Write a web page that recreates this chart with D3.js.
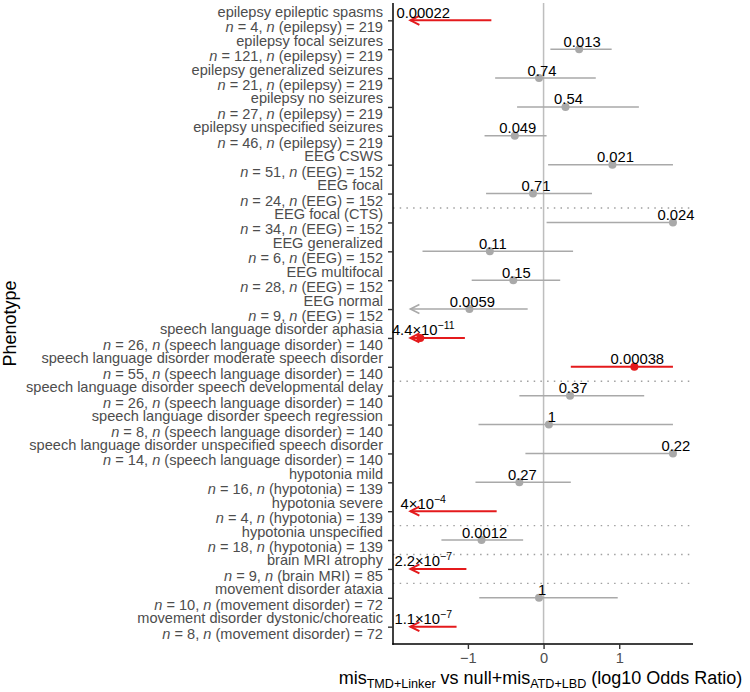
<!DOCTYPE html>
<html>
<head>
<meta charset="utf-8">
<script src="https://cdn.jsdelivr.net/npm/d3@7"></script>
<style>
  html, body { margin: 0; padding: 0; background: #fff; }
  svg { display: block; font-family: "Liberation Sans", Arial, Helvetica, sans-serif; }
</style>
</head>
<body>
<svg id="chart" width="750" height="692"></svg>
<script>
// ---------------- data ----------------
const phenotypes = [
  "epilepsy epileptic spasms",
  "epilepsy focal seizures",
  "epilepsy generalized seizures",
  "epilepsy no seizures",
  "epilepsy unspecified seizures",
  "EEG CSWS",
  "EEG focal",
  "EEG focal (CTS)",
  "EEG generalized",
  "EEG multifocal",
  "EEG normal",
  "speech language disorder aphasia",
  "speech language disorder moderate speech disorder",
  "speech language disorder speech developmental delay",
  "speech language disorder speech regression",
  "speech language disorder unspecified speech disorder",
  "hypotonia mild",
  "hypotonia severe",
  "hypotonia unspecified",
  "brain MRI atrophy",
  "movement disorder ataxia",
  "movement disorder dystonic/choreatic"
];
const nCases = [4, 121, 21, 27, 46, 51, 24, 34, 6, 28, 9, 26, 55, 26, 8, 14, 16, 4, 18, 9, 10, 8];
const groupNames = ["epilepsy","epilepsy","epilepsy","epilepsy","epilepsy",
  "EEG","EEG","EEG","EEG","EEG","EEG",
  "speech language disorder","speech language disorder","speech language disorder","speech language disorder","speech language disorder",
  "hypotonia","hypotonia","hypotonia","brain MRI","movement disorder","movement disorder"];
const groupTotals = [219,219,219,219,219,152,152,152,152,152,152,140,140,140,140,140,139,139,139,85,72,72];

// log10 odds ratio estimate (null = below the plotted range), lower / upper CI
const estimates = [null, 0.47, -0.06, 0.29, -0.38, 0.91, -0.14, 1.71, -0.71, -0.40, -0.98, -1.63, 1.20, 0.35, 0.07, 1.71, -0.32, null, -0.82, null, -0.06, null];
const lowerCI   = [-2.6, 0.09, -0.64, -0.35, -0.78, 0.06, -0.76, 0.04, -1.60, -0.95, -2.0, -2.6, 0.36, -0.32, -0.86, -0.24, -0.90, -2.6, -1.35, -2.6, -0.85, -2.6];
const upperCI   = [-0.69, 0.90, 0.69, 1.26, 0.04, 1.71, 0.64, 1.71, 0.39, 0.22, -0.21, -1.04, 1.71, 1.33, 1.71, 1.71, 0.36, -0.62, -0.27, -1.02, 0.98, -1.15];
const pLabels = ["0.00022","0.013","0.74","0.54","0.049","0.021","0.71","0.024","0.11","0.15","0.0059",
  "4.4×10^−11","0.00038","0.37","1","0.22","0.27","4×10^−4","0.0012","2.2×10^−7","1","1.1×10^−7"];
const significant = [1,0,0,0,0,0,0,0,0,0,0,1,1,0,0,0,0,1,0,1,0,1];
// separators drawn between these row pairs (index of upper row)
const separatorsAfter = [6, 12, 17, 18, 19];
const xTicks = [-1, 0, 1];
const xDomain = [-1.99, 1.975];
const clampLow = -1.76, clampHigh = 1.71;

// ---------------- layout ----------------
const svg = d3.select("#chart");
const panel = { left: 393, right: 693, top: 3, bottom: 644 };
const RED = "#e41a1c", GREY = "#a9a9a9";

const x = d3.scaleLinear().domain(xDomain).range([panel.left, panel.right]);
const y = d3.scalePoint().domain(d3.range(phenotypes.length))
  .range([panel.top, panel.bottom]).padding(0.6);

const rows = phenotypes.map((p, i) => ({
  i, p, n: nCases[i], g: groupNames[i], gn: groupTotals[i],
  est: estimates[i], lo: lowerCI[i], hi: upperCI[i], lab: pLabels[i], sig: significant[i]
}));

// zero line
svg.append("line")
  .attr("x1", x(0)).attr("x2", x(0))
  .attr("y1", panel.top).attr("y2", panel.bottom)
  .attr("stroke", "#bebebe").attr("stroke-width", 1.5);

// dotted separators
svg.selectAll("line.sep").data(separatorsAfter).join("line")
  .attr("class", "sep")
  .attr("x1", panel.left).attr("x2", x(1.96))
  .attr("y1", d => (y(d) + y(d + 1)) / 2).attr("y2", d => (y(d) + y(d + 1)) / 2)
  .attr("stroke", "#a0a0a0").attr("stroke-width", 1.4)
  .attr("stroke-dasharray", "1.5,5.2");

// CI lines
svg.selectAll("line.ci").data(rows).join("line")
  .attr("class", "ci")
  .attr("x1", d => x(Math.max(d.lo, clampLow)))
  .attr("x2", d => x(Math.min(d.hi, clampHigh)))
  .attr("y1", d => y(d.i)).attr("y2", d => y(d.i))
  .attr("stroke", d => d.sig ? RED : GREY)
  .attr("stroke-width", d => d.sig ? 2 : 1.6);

// arrow heads for truncated lower CI
svg.selectAll("path.arrow").data(rows.filter(d => d.lo < clampLow)).join("path")
  .attr("class", "arrow")
  .attr("d", d => {
    const tx = x(clampLow), ty = y(d.i);
    return `M${tx + 9},${ty - 4.5}L${tx},${ty}L${tx + 9},${ty + 4.5}`;
  })
  .attr("fill", "none")
  .attr("stroke", d => d.sig ? RED : GREY)
  .attr("stroke-width", d => d.sig ? 2 : 1.6);

// points
svg.selectAll("circle.pt").data(rows.filter(d => d.est !== null)).join("circle")
  .attr("class", "pt")
  .attr("cx", d => x(d.est)).attr("cy", d => y(d.i)).attr("r", 4)
  .attr("fill", d => d.sig ? RED : GREY);

// p-value labels
const pl = svg.selectAll("text.pl").data(rows).join("text")
  .attr("class", "pl")
  .attr("x", d => x(d.est === null ? -1.63 : Math.max(d.est, -1.63)) + 3)
  .attr("y", d => y(d.i) - 2.5)
  .attr("text-anchor", "middle")
  .attr("font-size", 14.8)
  .attr("fill", "#000");
pl.each(function(d) {
  const t = d3.select(this);
  const parts = d.lab.split("^");
  t.append("tspan").text(parts[0]);
  if (parts.length > 1) {
    t.append("tspan").attr("dy", -6).attr("font-size", 10.5).text(parts[1]);
  }
});

// axes lines
svg.append("line")
  .attr("x1", panel.left).attr("x2", panel.left)
  .attr("y1", panel.top).attr("y2", panel.bottom + 0.75)
  .attr("stroke", "#000").attr("stroke-width", 1.5);
svg.append("line")
  .attr("x1", panel.left - 0.75).attr("x2", panel.right)
  .attr("y1", panel.bottom).attr("y2", panel.bottom)
  .attr("stroke", "#000").attr("stroke-width", 1.5);

// y axis ticks and labels
const yAxis = d3.axisLeft(y).tickSize(5).tickFormat("");
const gy = svg.append("g").attr("transform", `translate(${panel.left},0)`).call(yAxis);
gy.select(".domain").remove();
gy.selectAll(".tick line").attr("stroke", "#333").attr("stroke-width", 1.4);

const ylab = svg.selectAll("g.ylab").data(rows).join("g").attr("class", "ylab")
  .attr("transform", d => `translate(${panel.left - 10},${y(d.i)})`);
ylab.append("text")
  .attr("y", -3.5).attr("text-anchor", "end").attr("font-size", 14.6).attr("fill", "#4d4d4d")
  .text(d => d.p);
ylab.append("text")
  .attr("y", 12).attr("text-anchor", "end").attr("font-size", 14.6).attr("fill", "#4d4d4d")
  .each(function(d) {
    const t = d3.select(this);
    t.append("tspan").attr("font-style", "italic").text("n");
    t.append("tspan").text(` = ${d.n}, `);
    t.append("tspan").attr("font-style", "italic").text("n");
    t.append("tspan").text(` (${d.g}) = ${d.gn}`);
  });

// x axis
const xAxis = d3.axisBottom(x).tickValues(xTicks).tickSize(5).tickPadding(4)
  .tickFormat(d => d < 0 ? "−" + Math.abs(d) : String(d));
const gx = svg.append("g").attr("transform", `translate(0,${panel.bottom})`).call(xAxis);
gx.select(".domain").remove();
gx.selectAll(".tick line").attr("stroke", "#333").attr("stroke-width", 1.4);
gx.selectAll(".tick text").attr("font-size", 14.6).attr("fill", "#4d4d4d")
  .attr("font-family", "Liberation Sans, Arial, sans-serif");

// x axis title
const xt = svg.append("text")
  .attr("x", 540.5).attr("y", 684).attr("text-anchor", "middle")
  .attr("font-size", 18).attr("fill", "#000");
xt.append("tspan").text("mis");
xt.append("tspan").attr("font-size", 12.6).attr("dy", 4).text("TMD+Linker");
xt.append("tspan").attr("dy", -4).text(" vs null+mis");
xt.append("tspan").attr("font-size", 12.6).attr("dy", 4).text("ATD+LBD");
xt.append("tspan").attr("dy", -4).text(" (log10 Odds Ratio)");

// y axis title
svg.append("text")
  .attr("transform", `translate(16,${(panel.top + panel.bottom) / 2}) rotate(-90)`)
  .attr("text-anchor", "middle").attr("font-size", 18).attr("fill", "#000")
  .text("Phenotype");
</script>
</body>
</html>
